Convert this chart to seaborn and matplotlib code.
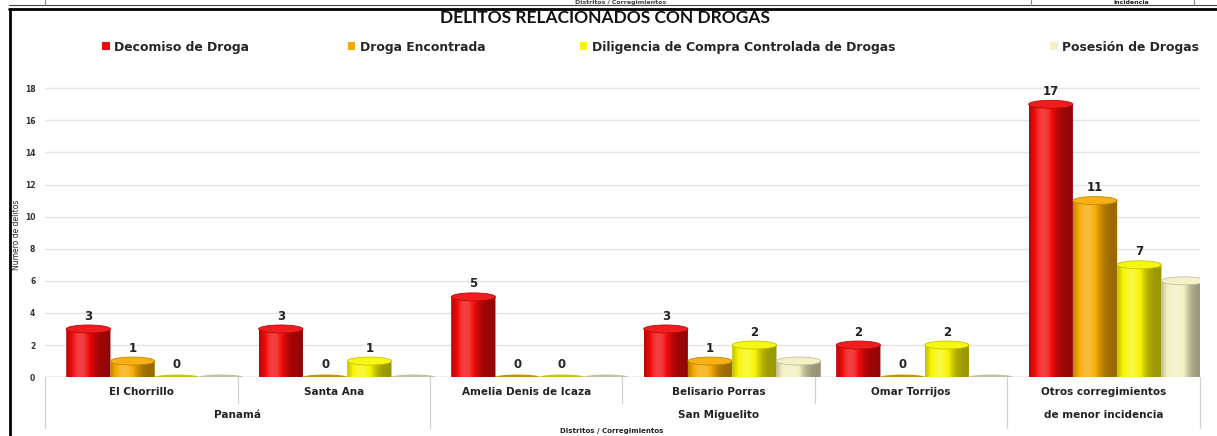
import numpy as np
import pandas as pd
import matplotlib
matplotlib.use("Agg")
import matplotlib.pyplot as plt
import matplotlib.colors as mcolors
from matplotlib.patches import Ellipse, Patch, PathPatch
from matplotlib.path import Path
from matplotlib.lines import Line2D
import seaborn as sns

# datos
corregimientos = ["El Chorrillo", "Santa Ana", "Amelia Denis de Icaza", "Belisario Porras",
                  "Omar Torrijos", "Otros corregimientos\nde menor incidencia"]
decomiso = [3, 3, 5, 3, 2, 17]
encontrada = [1, 0, 0, 1, 0, 11]
diligencia = [0, 1, 0, 2, 2, 7]
posesion = [0, 0, 0, 1, 0, 6]
series = ["Decomiso de Droga", "Droga Encontrada",
          "Diligencia de Compra Controlada de Drogas", "Posesión de Drogas"]
distritos = ["Panamá", "San Miguelito", ""]
distrito_grupos = [[0, 1], [2, 3, 4], [5]]
colores = ["#ee0a0a", "#f5aa00", "#f7f500", "#f3f0c2"]
con_etiqueta = [True, True, True, False]

df = pd.DataFrame({
    "corregimiento": corregimientos * 4,
    "serie": np.repeat(series, len(corregimientos)),
    "valor": decomiso + encontrada + diligencia + posesion,
})

sns.set_style("white")
plt.rcParams["font.family"] = ["DejaVu Sans"]

fig = plt.figure(figsize=(12.17, 4.36), dpi=100)
ax = fig.add_axes([0.037, 0.135, 0.949, 0.681])

sns.barplot(data=df, x="corregimiento", y="valor", hue="serie", hue_order=series,
            palette=colores, saturation=1, width=0.92, legend=False, ax=ax, zorder=2)

desplaz = 0.07   # la perspectiva 3D corre las barras un poco a la derecha
b = 0.25         # semi-altura de la elipse del cilindro


def sombra(c, f):
    rgb = np.array(mcolors.to_rgb(c))
    if f >= 1:
        return rgb + (1 - rgb) * (f - 1)
    return rgb * f


perfil = np.linspace(0, 1, 60)
fact = 0.62 + 0.62 * np.exp(-((perfil - 0.32) / 0.28) ** 2)
fact = np.clip(fact, 0, 1.22)

for i, cont in enumerate(ax.containers):
    col = colores[i]
    grad = np.array([[sombra(col, f) for f in fact]])
    for p in cont:
        p.set_x(p.get_x() + desplaz)
        p.set_facecolor("none")
        p.set_edgecolor("none")
        x0, w, h = p.get_x(), p.get_width(), p.get_height()
        xc, a = x0 + w / 2, w / 2
        if h > 0:
            xs = np.linspace(x0, x0 + w, 40)
            ys = -b * np.sqrt(np.clip(1 - ((xs - xc) / a) ** 2, 0, 1))
            verts = [(x0, h)] + list(zip(xs, ys)) + [(x0 + w, h), (x0, h)]
            cuerpo = PathPatch(Path(verts), facecolor="none", edgecolor="none",
                               transform=ax.transData)
            ax.add_patch(cuerpo)
            im = ax.imshow(grad, extent=(x0, x0 + w, -b, h), aspect="auto",
                           zorder=3, interpolation="bilinear")
            im.set_clip_path(cuerpo)
            ax.add_patch(Ellipse((xc, h), w, 2 * b, facecolor=sombra(col, 1.08),
                                 edgecolor=sombra(col, 0.8), lw=0.6, zorder=4))
        else:
            ax.add_patch(Ellipse((xc, 0), w, 1.3 * b, facecolor=sombra(col, 0.78),
                                 edgecolor="none", zorder=4, alpha=0.9))
        if con_etiqueta[i]:
            ax.text(xc, h + 0.4, f"{h:.0f}", ha="center", va="bottom",
                    fontsize=8.5, fontweight="bold", color="#222222", zorder=5)

ax.set_xlim(-0.5, len(corregimientos) - 0.5)
ax.set_ylim(0, 18.5)
ax.set_yticks(range(0, 19, 2))
ax.set_yticklabels([str(v) for v in range(0, 19, 2)], fontsize=5.5,
                   fontweight="bold", color="#333333")
ax.tick_params(axis="y", length=0, pad=7)
ax.set_xticks([])
ax.set_xlabel("")
ax.set_ylabel("Número de delitos", fontsize=5.5, labelpad=2)
ax.yaxis.set_label_coords(-0.021, 0.48)
ax.yaxis.grid(True, color="#e4e4e4", lw=1)
ax.set_axisbelow(True)
sns.despine(ax=ax, left=True, bottom=True, top=True, right=True)
ax.axhline(0, color="#cfcfcf", lw=1, zorder=1)

# etiquetas de dos niveles en el eje x
tr = ax.get_xaxis_transform()
for k, nombre in enumerate(corregimientos):
    partes = nombre.split("\n")
    ax.text(k, -0.05, partes[0], transform=tr, ha="center", va="center",
            fontsize=7.5, fontweight="bold", color="#222222")
    if len(partes) > 1:
        ax.text(k, -0.128, partes[1], transform=tr, ha="center", va="center",
                fontsize=7.5, fontweight="bold", color="#222222")
for nombre, grupo in zip(distritos, distrito_grupos):
    if nombre:
        ax.text(np.mean(grupo), -0.128, nombre, transform=tr, ha="center",
                va="center", fontsize=7.5, fontweight="bold", color="#222222")
    ax.plot([grupo[0] - 0.5] * 2, [0, -0.172], transform=tr, color="#d0d0d0",
            lw=0.9, clip_on=False)
    for g in grupo[1:]:
        ax.plot([g - 0.5] * 2, [0, -0.088], transform=tr, color="#d0d0d0",
                lw=0.9, clip_on=False)
ax.plot([len(corregimientos) - 0.5] * 2, [0, -0.172], transform=tr,
        color="#d0d0d0", lw=0.9, clip_on=False)

fig.text(0.503, 0.011, "Distritos / Corregimientos", ha="center", va="center",
         fontsize=5, fontweight="bold", color="#222222")

# titulo y leyenda
fig.text(0.497, 0.958, "DELITOS RELACIONADOS CON DROGAS", ha="center", va="center",
         fontsize=12.5, fontweight="bold", family=["Lato", "DejaVu Sans"], color="#111111")
pos_leyenda = [0.084, 0.286, 0.4766, 0.863]
for serie, c, xx in zip(series, colores, pos_leyenda):
    fig.legend([Patch(facecolor=c, edgecolor="none")], [serie], loc="center left",
               bbox_to_anchor=(xx, 0.892), frameon=False, handlelength=0.6,
               handleheight=0.6, handletextpad=0.35, borderaxespad=0, borderpad=0,
               prop={"weight": "bold", "size": 8.9})

# marco del recorte
fig.add_artist(Line2D([0.007, 1], [0.979, 0.979], color="black", lw=2))
fig.add_artist(Line2D([0.008, 0.008], [0, 0.979], color="black", lw=2))
fig.add_artist(Line2D([0.007, 1], [0.989, 0.989], color="#444444", lw=0.8))
for xx in [0.037, 0.847, 0.981]:
    fig.add_artist(Line2D([xx, xx], [0.989, 1], color="#888888", lw=0.8))
fig.text(0.51, 0.995, "Distritos / Corregimientos", ha="center", va="center",
         fontsize=4.5, fontweight="bold", color="#444444")
fig.text(0.93, 0.995, "incidencia", ha="center", va="center",
         fontsize=4.5, fontweight="bold", color="#222222")

fig.savefig("out.png", dpi=100, facecolor="white")
